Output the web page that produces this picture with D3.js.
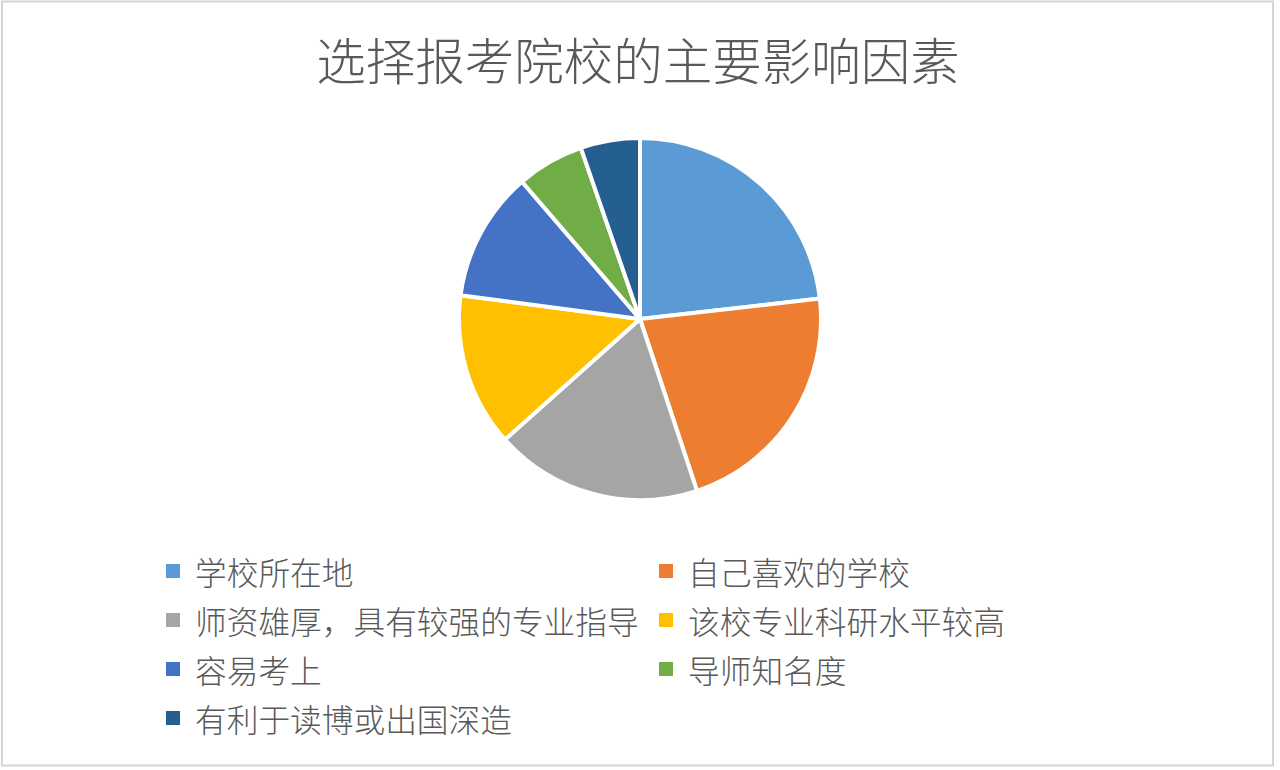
<!DOCTYPE html>
<html>
<head>
<meta charset="utf-8">
<script src="https://cdn.jsdelivr.net/npm/d3@7"></script>
<style>
  html, body { margin: 0; padding: 0; background: #fff; }
  svg { display: block; }
  text { font-family: "Noto Sans CJK SC", "Noto Sans", sans-serif; fill: #595959; }
</style>
</head>
<body>
<div id="chart"></div>
<script>
const title = '选择报考院校的主要影响因素'
const categories = [
  '学校所在地',
  '自己喜欢的学校',
  '师资雄厚，具有较强的专业指导',
  '该校专业科研水平较高',
  '容易考上',
  '导师知名度',
  '有利于读博或出国深造'
]
const values = [23.2, 21.7, 18.5, 13.7, 11.6, 6.0, 5.3]
const colors = ['#5B9BD5', '#ED7D31', '#A5A5A5', '#FFC000', '#4472C4', '#70AD47', '#255E91']

let width = 1280
let height = 770
let cx = 640
let cy = 319
let radius = 181

let svg = d3
  .select('#chart')
  .append('svg')
  .attr('width', width)
  .attr('height', height)

/* Frame */
svg
  .append('rect')
  .attr('x', 2)
  .attr('y', 1.5)
  .attr('width', 1271)
  .attr('height', 764)
  .attr('fill', '#fff')
  .attr('stroke', '#d4d4d4')
  .attr('stroke-width', 2)

/* Title */
svg
  .append('text')
  .attr('x', 638)
  .attr('y', 58)
  .attr('text-anchor', 'middle')
  .attr('dominant-baseline', 'central')
  .style('font-size', '49.5px')
  .style('font-weight', 300)
  .text(title)

/* Pie */
let data = categories.map((c, i) => ({ name: c, value: values[i], color: colors[i] }))

let pie = d3
  .pie()
  .sort(null)
  .value(d => d.value)

let arc = d3.arc().innerRadius(0).outerRadius(radius)

svg
  .append('g')
  .attr('transform', `translate(${cx}, ${cy})`)
  .selectAll('path')
  .data(pie(data))
  .enter()
  .append('path')
  .attr('d', arc)
  .attr('fill', d => d.data.color)
  .attr('stroke', '#fff')
  .attr('stroke-width', 4)
  .attr('stroke-linejoin', 'round')

/* Legend */
let colX = [166, 659]
let rowY = [571, 620, 669, 718]

let legend = svg
  .append('g')
  .selectAll('g')
  .data(data)
  .enter()
  .append('g')
  .attr('transform', (d, i) => `translate(${colX[i % 2]}, ${rowY[Math.floor(i / 2)]})`)

legend
  .append('rect')
  .attr('x', 0)
  .attr('y', -7)
  .attr('width', 14)
  .attr('height', 14)
  .attr('fill', d => d.color)

legend
  .append('text')
  .attr('x', 29)
  .attr('y', 0)
  .attr('dominant-baseline', 'central')
  .style('font-size', '31.7px')
  .style('font-weight', 300)
  .text(d => d.name)
</script>
</body>
</html>
